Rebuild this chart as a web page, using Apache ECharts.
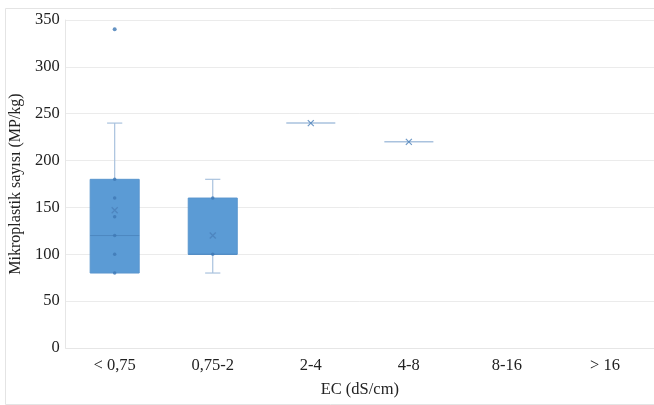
<!DOCTYPE html>
<html>
<head>
<meta charset="utf-8">
<script src="https://cdn.jsdelivr.net/npm/echarts@6/dist/echarts.min.js"></script>
<style>
  html, body { margin: 0; padding: 0; background: #fff; }
  #chart { width: 654px; height: 405px; }
</style>
</head>
<body>
<div id="chart"></div>
<script>
// EC classes on the x axis
const categories = ['< 0,75', '0,75-2', '2-4', '4-8', '8-16', '> 16'];
// five-number summary per class (null = no samples)
const whiskerLow  = [80, 80, 240, 220, null, null];
const quartile1   = [80, 100, 240, 220, null, null];
const medians     = [120, 100, 240, 220, null, null];
const quartile3   = [180, 160, 240, 220, null, null];
const whiskerHigh = [240, 180, 240, 220, null, null];
// class means (drawn as x)
const means = [147, 120, 240, 220, null, null];
// individual samples inside the whiskers
const innerPoints = [
  [0, 80], [0, 100], [0, 120], [0, 140], [0, 160], [0, 180],
  [1, 100], [1, 160]
];
// outliers
const outliers = [[0, 340]];
// y axis ticks
const yMin = 0, yMax = 350, yStep = 50;

const boxData = [];
categories.forEach((c, i) => {
  if (quartile1[i] == null) return;
  boxData.push([i, whiskerLow[i], quartile1[i], medians[i], quartile3[i], whiskerHigh[i]]);
});
const meanData = [];
categories.forEach((c, i) => { if (means[i] != null) meanData.push([i, means[i]]); });

const FONT = '"Liberation Serif", "DejaVu Serif", serif';
const BOX = '#5B9BD5';
const WHISK = '#A9C2DE';

function renderBox(params, api) {
  const i = api.value(0);
  const band = api.size([1, 0])[0];
  const w = band * 0.5;
  const cap = band * 0.155;
  const pLow = api.coord([i, api.value(1)]);
  const pQ1 = api.coord([i, api.value(2)]);
  const pMed = api.coord([i, api.value(3)]);
  const pQ3 = api.coord([i, api.value(4)]);
  const pHigh = api.coord([i, api.value(5)]);
  const x = pQ1[0];
  const children = [];
  const lineStyle = { stroke: WHISK, lineWidth: 1.2, fill: null };
  // whiskers with short caps
  if (pHigh[1] < pQ3[1]) {
    children.push({ type: 'line', shape: { x1: x, y1: pQ3[1], x2: x, y2: pHigh[1] }, style: lineStyle });
    children.push({ type: 'line', shape: { x1: x - cap / 2, y1: pHigh[1], x2: x + cap / 2, y2: pHigh[1] }, style: lineStyle });
  }
  if (pLow[1] > pQ1[1]) {
    children.push({ type: 'line', shape: { x1: x, y1: pQ1[1], x2: x, y2: pLow[1] }, style: lineStyle });
    children.push({ type: 'line', shape: { x1: x - cap / 2, y1: pLow[1], x2: x + cap / 2, y2: pLow[1] }, style: lineStyle });
  }
  if (pQ1[1] - pQ3[1] > 0.5) {
    children.push({ type: 'rect', shape: { x: x - w / 2, y: pQ3[1], width: w, height: pQ1[1] - pQ3[1] },
      style: { fill: BOX, stroke: '#5A96CE', lineWidth: 1 } });
    children.push({ type: 'line', shape: { x1: x - w / 2, y1: pMed[1], x2: x + w / 2, y2: pMed[1] },
      style: { stroke: '#4D88C0', lineWidth: 1 } });
  } else {
    // collapsed box: a single value
    children.push({ type: 'line', shape: { x1: x - w / 2, y1: pMed[1], x2: x + w / 2, y2: pMed[1] },
      style: { stroke: WHISK, lineWidth: 1.5 } });
  }
  return { type: 'group', children };
}

const chart = echarts.init(document.getElementById('chart'), null, { renderer: 'canvas' });
chart.setOption({
  animation: false,
  backgroundColor: '#fff',
  graphic: [{
    type: 'rect', left: 3, top: 6, shape: { width: 660, height: 396 },
    style: { fill: 'none', stroke: '#E4E4E4', lineWidth: 1 }, silent: true, z: -1
  }],
  grid: { left: 63, right: 0, top: 20, bottom: 57, containLabel: false },
  xAxis: {
    type: 'category',
    data: categories,
    name: 'EC (dS/cm)',
    nameLocation: 'middle',
    nameGap: 33,
    nameTextStyle: { fontFamily: FONT, fontSize: 16.5, color: '#222' },
    axisLine: { show: true, lineStyle: { color: '#E6E6E6' } },
    axisTick: { show: false },
    axisLabel: { fontFamily: FONT, fontSize: 16.5, color: '#222', margin: 9 },
    splitLine: { show: false }
  },
  yAxis: {
    type: 'value',
    min: yMin, max: yMax, interval: yStep,
    name: 'Mikroplastik sayısı (MP/kg)',
    nameLocation: 'middle',
    nameGap: 40,
    nameTextStyle: { fontFamily: FONT, fontSize: 16, color: '#222' },
    axisLine: { show: true, lineStyle: { color: '#E6E6E6' } },
    axisTick: { show: false },
    axisLabel: { fontFamily: FONT, fontSize: 16.5, color: '#222', margin: 6 },
    splitLine: { show: true, lineStyle: { color: '#EBEBEB', width: 1 } }
  },
  series: [
    {
      type: 'custom',
      renderItem: renderBox,
      data: boxData,
      encode: { x: 0, y: [1, 2, 3, 4, 5] },
      z: 2
    },
    {
      type: 'scatter',
      data: innerPoints,
      symbol: 'circle',
      symbolSize: 3.5,
      itemStyle: { color: '#3F78B4' },
      z: 3
    },
    {
      type: 'scatter',
      data: outliers,
      symbol: 'circle',
      symbolSize: 4,
      itemStyle: { color: '#3F78B4' },
      z: 3
    },
    {
      type: 'scatter',
      data: meanData,
      symbol: 'path://M0,0L10,10M10,0L0,10',
      symbolSize: 6,
      itemStyle: { color: 'none', borderColor: '#4A7FB9', borderWidth: 1.2 },
      z: 4
    }
  ]
});
</script>
</body>
</html>
